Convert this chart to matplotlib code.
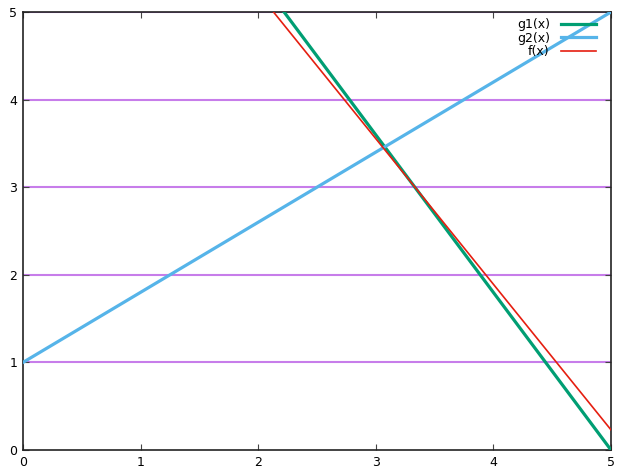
import matplotlib
matplotlib.use("Agg")
import matplotlib.pyplot as plt

# curves read as straight segments
g1_x = [2.22, 5.0]
g1_y = [5.0, 0.0]
g2_x = [0.0, 5.0]
g2_y = [1.0, 5.0]
f_x = [2.13, 5.0]
f_y = [5.0, 0.23]
levels = [1, 2, 3, 4, 5]
ticks = [0, 1, 2, 3, 4, 5]

fig = plt.figure(figsize=(6.17, 4.69), dpi=100)
ax = fig.add_axes([23 / 617, 19 / 469, 588 / 617, 438 / 469])

for lv in levels:
    ax.axhline(lv, color="#c77dea", lw=1.5, zorder=1)

ax.plot(g1_x, g1_y, color="#009e73", lw=2.3, label="g1(x)", zorder=3)
ax.plot(g2_x, g2_y, color="#56b4e9", lw=2.3, label="g2(x)", zorder=3)
ax.plot(f_x, f_y, color="#e51e10", lw=1.2, label="f(x)", zorder=4)

ax.set_xlim(0, 5)
ax.set_ylim(0, 5)
ax.set_xticks(ticks)
ax.set_yticks(ticks)
ax.tick_params(direction="in", top=True, right=True, length=4, width=0.8,
               labelsize=9, pad=4, color="#444444")
for s in ax.spines.values():
    s.set_linewidth(1.2)
    s.set_color("#222222")

ax.legend(loc="upper right", bbox_to_anchor=(1 - 5 / 588, 1 + 4 / 438),
          frameon=False, markerfirst=False, fontsize=9,
          handlelength=2.8, labelspacing=0.05, borderaxespad=0.4,
          handletextpad=0.9)

fig.savefig("out.png", dpi=100)
